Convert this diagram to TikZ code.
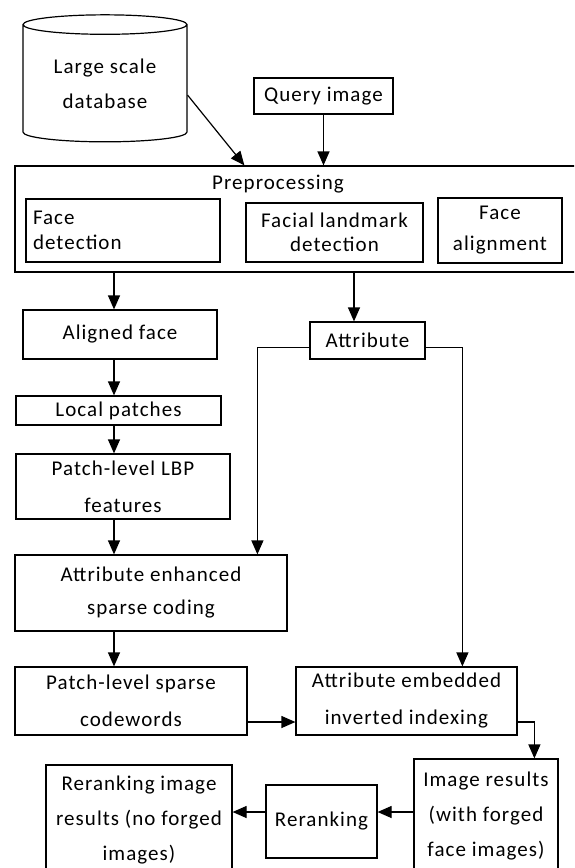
\documentclass[tikz,border=0pt]{standalone}
\usepackage{fontspec}
\setmainfont[LetterSpace=5]{Carlito}
\usetikzlibrary{shapes.geometric,arrows.meta,calc}

\tikzset{
  blk/.style={draw, line width=1.2pt, inner sep=0pt, align=center, font=\fontsize{21}{35}\selectfont},
  arr/.style={line width=1.2pt, -{Triangle[length=14pt,width=12pt]}},
}

\begin{document}
\begin{tikzpicture}[x=1pt,y=-1pt]
    \clip (0,0) rectangle (574,868);

    \node[blk, cylinder, shape border rotate=90, aspect=0.19, minimum width=164pt, minimum height=127pt] (db) at (105,83.5) {Large scale\\database};
    \node[blk, minimum width=139pt, minimum height=36pt] (query) at (323.5,96) {Query image};

    % preprocessing block
    \node[blk, minimum width=567pt, minimum height=106pt] (prep) at (298.5,219) {};
    \node[font=\fontsize{21}{35}\selectfont, inner sep=0pt] (preplabel) at (278,184) {Preprocessing};
    \node[blk, minimum width=194pt, minimum height=63pt, text width=180pt, align=left, font=\fontsize{21}{25}\selectfont] (facedet) at (123,230.5) {Face\\detection};
    \node[blk, minimum width=177pt, minimum height=59pt, font=\fontsize{21}{24}\selectfont] (landmark) at (334.5,232.5) {Facial landmark\\detection};
    \node[blk, minimum width=124pt, minimum height=65pt, font=\fontsize{21}{31}\selectfont] (align) at (500,230.5) {Face\\alignment};

    \node[blk, minimum width=194pt, minimum height=49pt] (aligned) at (120,334.5) {Aligned face};
    \node[blk, minimum width=115pt, minimum height=37pt] (attr) at (367.5,340.5) {Attribute};
    \node[blk, minimum width=205pt, minimum height=29pt] (local) at (118.5,410.5) {Local patches};
    \node[blk, minimum width=214pt, minimum height=65pt, font=\fontsize{21}{37}\selectfont] (lbp) at (123,486.5) {Patch-level LBP\\features};
    \node[blk, minimum width=272pt, minimum height=76pt, font=\fontsize{21}{33}\selectfont] (enh) at (151,593) {Attribute enhanced\\sparse coding};
    \node[blk, minimum width=232pt, minimum height=68pt, font=\fontsize{21}{37}\selectfont] (codew) at (131,701) {Patch-level sparse\\codewords};
    \node[blk, minimum width=221pt, minimum height=68pt, font=\fontsize{21}{37}\selectfont] (embed) at (406.5,701) {Attribute embedded\\inverted indexing};
    \node[blk, minimum width=144pt, minimum height=115pt] (results) at (486,816.5) {Image results\\(with forged\\face images)};
    \node[blk, minimum width=111pt, minimum height=73pt] (rerank) at (321.5,821.5) {Reranking};
    \node[blk, minimum width=186pt, minimum height=110pt] (final) at (139,820) {Reranking image\\results (no forged\\images)};

    \coordinate (lane) at (114,0);
    \coordinate (attrlane) at (354,0);
    \coordinate (row) at (0,812);

    \draw[arr] (db.-8) -- ([xshift=230pt]prep.north west);
    \draw[arr] (query.south) -- (query.south |- prep.north);
    \draw[arr] (prep.south -| lane) -- (aligned.north -| lane);
    \draw[arr] (aligned.south -| lane) -- (local.north -| lane);
    \draw[arr] (local.south -| lane) -- (lbp.north -| lane);
    \draw[arr] (lbp.south -| lane) -- (enh.north -| lane);
    \draw[arr] (enh.south -| lane) -- (codew.north -| lane);
    \draw[arr] (prep.south -| attrlane) -- (attr.north -| attrlane);
    \draw[arr] ([yshift=-7pt]attr.west) -| ([xshift=243pt]enh.north west);
    \draw[arr] ([yshift=-7pt]attr.east) -| ([xshift=167pt]embed.north west);
    \draw[arr] ([yshift=-21pt]codew.east) -- ([yshift=-21pt]embed.west);
    \draw[arr] ([yshift=-21pt]embed.east) -| ([xshift=121pt]results.north west);
    \draw[arr] (results.west |- row) -- (rerank.east |- row);
    \draw[arr] (rerank.west |- row) -- (final.east |- row);
\end{tikzpicture}
\end{document}
